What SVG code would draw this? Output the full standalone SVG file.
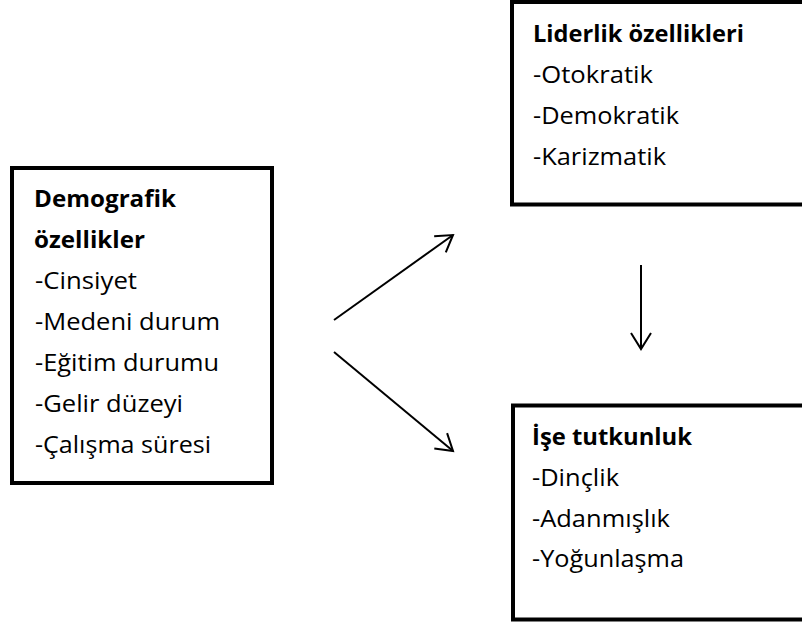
<svg xmlns="http://www.w3.org/2000/svg" width="802" height="623" viewBox="0 0 802 623">
<defs>
<style>
.box{fill:#fff;stroke:#000;stroke-width:4}
.t{font-family:"Open Sans","Liberation Sans",sans-serif;font-size:23.5px;fill:#000}
.b{font-weight:bold;font-size:23px}
.conn{stroke:#000;stroke-width:2;fill:none}
</style>
<marker id="arr" markerUnits="userSpaceOnUse" viewBox="-20 -12 22 24" refX="0" refY="0" markerWidth="22" markerHeight="24" orient="auto" overflow="visible">
<path d="M-16,-10 L0,0 L-16,10" fill="none" stroke="#000" stroke-width="2"/>
</marker>
</defs>
<rect width="802" height="623" fill="#fff"/>
<g id="demografik">
<rect class="box" x="12" y="168" width="260" height="315"/>
<text class="t b" x="34" y="207" textLength="142" lengthAdjust="spacingAndGlyphs">Demografik</text>
<text class="t b" x="34" y="248" textLength="111" lengthAdjust="spacingAndGlyphs">özellikler</text>
<text class="t" x="35" y="289" textLength="102" lengthAdjust="spacingAndGlyphs">-Cinsiyet</text>
<text class="t" x="35" y="330" textLength="185" lengthAdjust="spacingAndGlyphs">-Medeni durum</text>
<text class="t" x="35" y="371" textLength="184" lengthAdjust="spacingAndGlyphs">-Eğitim durumu</text>
<text class="t" x="35" y="412" textLength="148" lengthAdjust="spacingAndGlyphs">-Gelir düzeyi</text>
<text class="t" x="35" y="453" textLength="176" lengthAdjust="spacingAndGlyphs">-Çalışma süresi</text>
</g>
<g id="liderlik">
<rect class="box" x="512" y="2" width="300" height="202.5"/>
<text class="t b" x="533" y="42" textLength="211" lengthAdjust="spacingAndGlyphs">Liderlik özellikleri</text>
<text class="t" x="533" y="83" textLength="120" lengthAdjust="spacingAndGlyphs">-Otokratik</text>
<text class="t" x="533" y="124" textLength="146" lengthAdjust="spacingAndGlyphs">-Demokratik</text>
<text class="t" x="533" y="165" textLength="133" lengthAdjust="spacingAndGlyphs">-Karizmatik</text>
</g>
<g id="tutkunluk">
<rect class="box" x="513" y="405.5" width="300" height="214"/>
<text class="t b" x="532" y="445" textLength="160" lengthAdjust="spacingAndGlyphs">İşe tutkunluk</text>
<text class="t" x="532" y="486" textLength="87" lengthAdjust="spacingAndGlyphs">-Dinçlik</text>
<text class="t" x="532" y="527" textLength="138" lengthAdjust="spacingAndGlyphs">-Adanmışlık</text>
<text class="t" x="532" y="567" textLength="152" lengthAdjust="spacingAndGlyphs">-Yoğunlaşma</text>
</g>
<g id="connectors">
<line class="conn" x1="334" y1="320" x2="453" y2="235" marker-end="url(#arr)"/>
<line class="conn" x1="334" y1="352" x2="453" y2="451" marker-end="url(#arr)"/>
<line class="conn" x1="641" y1="265" x2="641" y2="349" marker-end="url(#arr)"/>
</g>
</svg>
